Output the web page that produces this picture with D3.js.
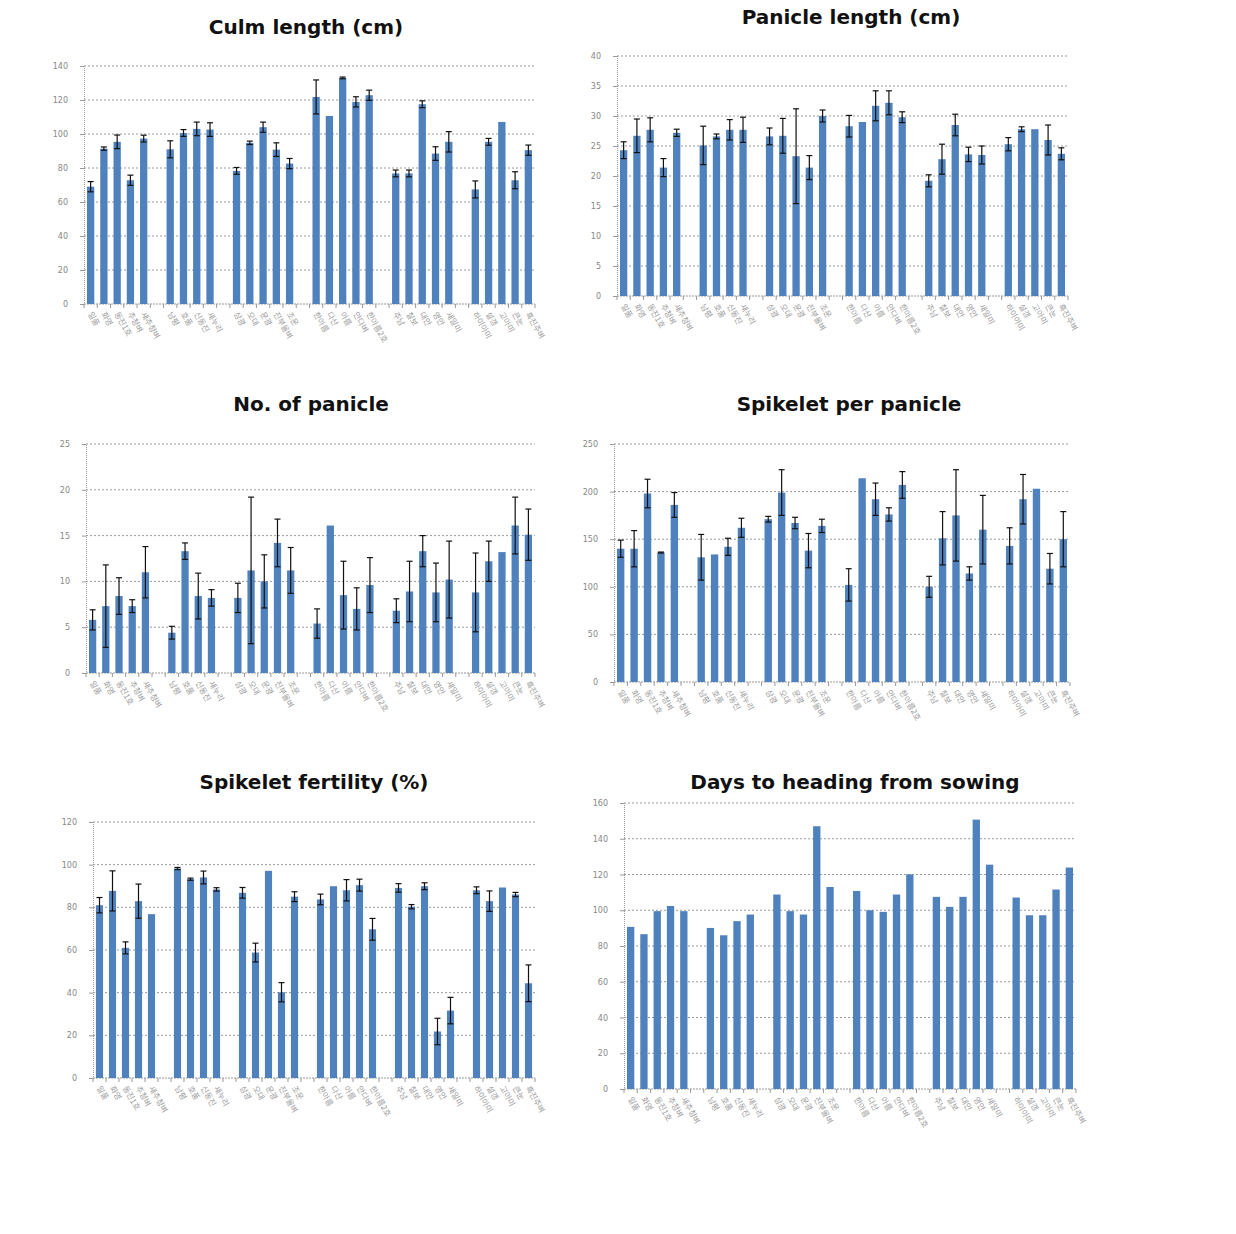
<!DOCTYPE html>
<html><head><meta charset="utf-8">
<script src="https://cdn.jsdelivr.net/npm/d3@7"></script>
<style>body{margin:0;background:#fff;} svg{display:block;}</style>
</head><body>
<svg id="chart" width="1236" height="1234"></svg>
<script>
// ---------- DATA ----------
const groupSizes = [5, 4, 5, 5, 5, 5];
const varieties = [
  "일품","화영","동진1호","추청벼","새추청벼",
  "남평","호품","신동진","새누리",
  "삼광","오대","운광","진부올벼","조운",
  "한아름","다산","아름","안다벼","한아름2호",
  "주남","칠보","대안","영안","새일미",
  "하이아미","설갱","고아미","큰눈","흑진주벼"
];

const culmTicks = [0,20,40,60,80,100,120,140];
const culmVals = [69,91.4,95.4,72.8,97.3, 91,100.6,103,102.6, 78.3,94.8,104,90.8,82.6, 121.8,110.6,133,118.9,122.8, 76.8,76.8,117.5,88.5,95.4, 67.4,95.4,107.1,72.8,90.5];
const culmErr  = [3,1,4,3,2, 5,2,4,4, 2,1,3,4,3, 10,0,0.5,3,3, 2,2,2,4,6, 5,2,0,5,3];

const panTicks = [0,5,10,15,20,25,30,35,40];
const panVals = [24.3,26.7,27.7,21.4,27.2, 25.1,26.6,27.7,27.7, 26.6,26.7,23.3,21.4,30, 28.3,29,31.7,32.2,29.8, 19.2,22.8,28.5,23.6,23.5, 25.3,27.8,27.8,26,23.7];
const panErr  = [1.4,2.8,2,1.5,0.6, 3.2,0.4,1.7,2.1, 1.4,2.9,7.9,2,1, 1.8,0,2.5,2,0.9, 1,2.5,1.8,1.2,1.5, 1.1,0.4,0,2.5,1];

const nopTicks = [0,5,10,15,20,25];
const nopVals = [5.8,7.3,8.4,7.3,11, 4.4,13.3,8.4,8.2, 8.2,11.2,10,14.2,11.2, 5.4,16.1,8.5,7,9.6, 6.8,8.9,13.3,8.8,10.2, 8.8,12.2,13.2,16.1,15.1];
const nopErr  = [1.1,4.5,2,0.7,2.8, 0.7,0.9,2.5,0.9, 1.6,8,2.9,2.6,2.5, 1.6,0,3.7,2.3,3, 1.3,3.3,1.7,3.2,4.2, 4.3,2.2,0,3.1,2.8];

const sppTicks = [0,50,100,150,200,250];
const sppVals = [140,140,198,136,186, 131,134,142,162, 171,199,167,138,164, 102,214,192,176,207, 100,151,175,114,160, 143,192,203,119,150];
const sppErr  = [9,19,15,0.5,13, 24,0,9,10, 3,24,6,18,7, 17,0,17,7,14, 11,28,48,7,36, 19,26,0,16,29];

const ferTicks = [0,20,40,60,80,100,120];
const ferVals = [81,87.7,61,82.9,76.8, 98.2,93.2,94,88.4, 86.8,58.8,97.1,40.2,85, 83.7,89.9,88,90.4,69.7, 89.1,80.3,89.9,21.8,31.6, 88,82.9,89.3,86,44.4];
const ferErr  = [3.6,9.4,2.8,8,0, 0.5,0.5,3,0.8, 2.5,4.4,0,4.5,2.3, 2.5,0,5,2.8,5.1, 2,1,1.6,6.2,6.2, 1.6,4.8,0,1,8.6];

const dthTicks = [0,20,40,60,80,100,120,140,160];
const dthVals = [90.7,86.6,99.5,102.4,99.5, 90.1,86,93.9,97.6, 108.8,99.5,97.6,147,113, 110.8,100,99.1,108.8,120.1, 107.5,101.9,107.5,150.7,125.5, 107.1,97.2,97.2,111.6,123.9];

const titles = ["Culm length (cm)","Panicle length (cm)","No. of panicle","Spikelet per panicle","Spikelet fertility (%)","Days to heading from sowing"];

// ---------- BUILD SLOTS ----------
const slots = [];
let vi = 0;
groupSizes.forEach((n, g) => {
  for (let k = 0; k < n; k++) { slots.push({id: "v" + vi, idx: vi}); vi++; }
  if (g < groupSizes.length - 1) slots.push({id: "gap" + g, idx: null});
});

const panels = [
  {title: titles[0], ticks: culmTicks, vals: culmVals, err: culmErr, L: 84,  R: 535,  T: 66,  B: 304,  tx: 306, ty: 34},
  {title: titles[1], ticks: panTicks,  vals: panVals,  err: panErr,  L: 617, R: 1068, T: 56,  B: 296,  tx: 851, ty: 24},
  {title: titles[2], ticks: nopTicks,  vals: nopVals,  err: nopErr,  L: 86,  R: 535,  T: 444, B: 673,  tx: 311, ty: 411},
  {title: titles[3], ticks: sppTicks,  vals: sppVals,  err: sppErr,  L: 614, R: 1070, T: 444, B: 682,  tx: 849, ty: 411},
  {title: titles[4], ticks: ferTicks,  vals: ferVals,  err: ferErr,  L: 93,  R: 535,  T: 822, B: 1078, tx: 314, ty: 789},
  {title: titles[5], ticks: dthTicks,  vals: dthVals,  err: null,    L: 624, R: 1076, T: 803, B: 1089, tx: 855, ty: 789}
];

const svg = d3.select("#chart");

panels.forEach(p => {
  const g = svg.append("g");
  const x = d3.scaleBand().domain(slots.map(s => s.id)).range([p.L, p.R]).paddingInner(0.45).paddingOuter(0.225);
  const y = d3.scaleLinear().domain([0, d3.max(p.ticks)]).range([p.B, p.T]);
  const step = x.step();

  // title
  g.append("text").attr("x", p.tx).attr("y", p.ty).attr("text-anchor", "middle")
    .attr("font-family", "DejaVu Sans, sans-serif").attr("font-weight", "bold")
    .attr("font-size", 20).attr("fill", "#111").text(p.title);

  // gridlines
  g.selectAll(".grid").data(p.ticks.filter(t => t > 0)).enter().append("line")
    .attr("x1", p.L).attr("x2", p.R).attr("y1", d => y(d)).attr("y2", d => y(d))
    .attr("stroke", "#9a9a9a").attr("stroke-width", 1).attr("stroke-dasharray", "2,2");

  // y axis
  const yAxis = d3.axisLeft(y).tickValues(p.ticks).tickSize(4).tickPadding(12).tickFormat(d3.format("d"));
  const ya = g.append("g").attr("transform", `translate(${p.L},0)`).call(yAxis);
  ya.select(".domain").attr("stroke", "#999").attr("stroke-dasharray", "1,1");
  ya.selectAll(".tick line").attr("stroke", "#999");
  ya.selectAll(".tick text").attr("font-size", 8).attr("fill", "#888").attr("font-family", "DejaVu Sans, sans-serif");

  // x axis
  const xa = g.append("g").attr("transform", `translate(0,${p.B})`);
  xa.append("line").attr("x1", p.L).attr("x2", p.R).attr("y1", 0).attr("y2", 0)
    .attr("stroke", "#999").attr("stroke-dasharray", "2,1");
  xa.selectAll(".xt").data(d3.range(slots.length + 1)).enter().append("line")
    .attr("x1", i => p.L + i * step).attr("x2", i => p.L + i * step)
    .attr("y1", 0).attr("y2", 4).attr("stroke", "#999");
  xa.selectAll(".xl").data(slots.filter(s => s.idx !== null)).enter().append("text")
    .attr("transform", s => `translate(${x(s.id) + x.bandwidth() / 2 - 3},${10}) rotate(60)`)
    .attr("text-anchor", "start").attr("font-size", 8).attr("fill", "#9a9a9a")
    .attr("font-family", "Noto Sans CJK KR, sans-serif")
    .text(s => varieties[s.idx]);

  // bars
  const data = slots.filter(s => s.idx !== null).map(s => ({id: s.id, v: p.vals[s.idx], e: p.err ? p.err[s.idx] : 0}));
  g.selectAll(".bar").data(data).enter().append("rect")
    .attr("x", d => x(d.id)).attr("width", x.bandwidth())
    .attr("y", d => y(d.v)).attr("height", d => y(0) - y(d.v))
    .attr("fill", "#4F81BD");

  // error bars
  if (p.err) {
    const eb = g.selectAll(".eb").data(data.filter(d => d.e > 0)).enter().append("g");
    const cx = d => x(d.id) + x.bandwidth() / 2;
    eb.append("line").attr("x1", cx).attr("x2", cx)
      .attr("y1", d => y(d.v - d.e)).attr("y2", d => y(d.v + d.e))
      .attr("stroke", "#111").attr("stroke-width", 1.2);
    eb.append("line").attr("x1", d => cx(d) - 3).attr("x2", d => cx(d) + 3)
      .attr("y1", d => y(d.v + d.e)).attr("y2", d => y(d.v + d.e))
      .attr("stroke", "#111").attr("stroke-width", 1.2);
    eb.append("line").attr("x1", d => cx(d) - 3).attr("x2", d => cx(d) + 3)
      .attr("y1", d => y(d.v - d.e)).attr("y2", d => y(d.v - d.e))
      .attr("stroke", "#111").attr("stroke-width", 1.2);
  }
});
</script>
</body></html>
